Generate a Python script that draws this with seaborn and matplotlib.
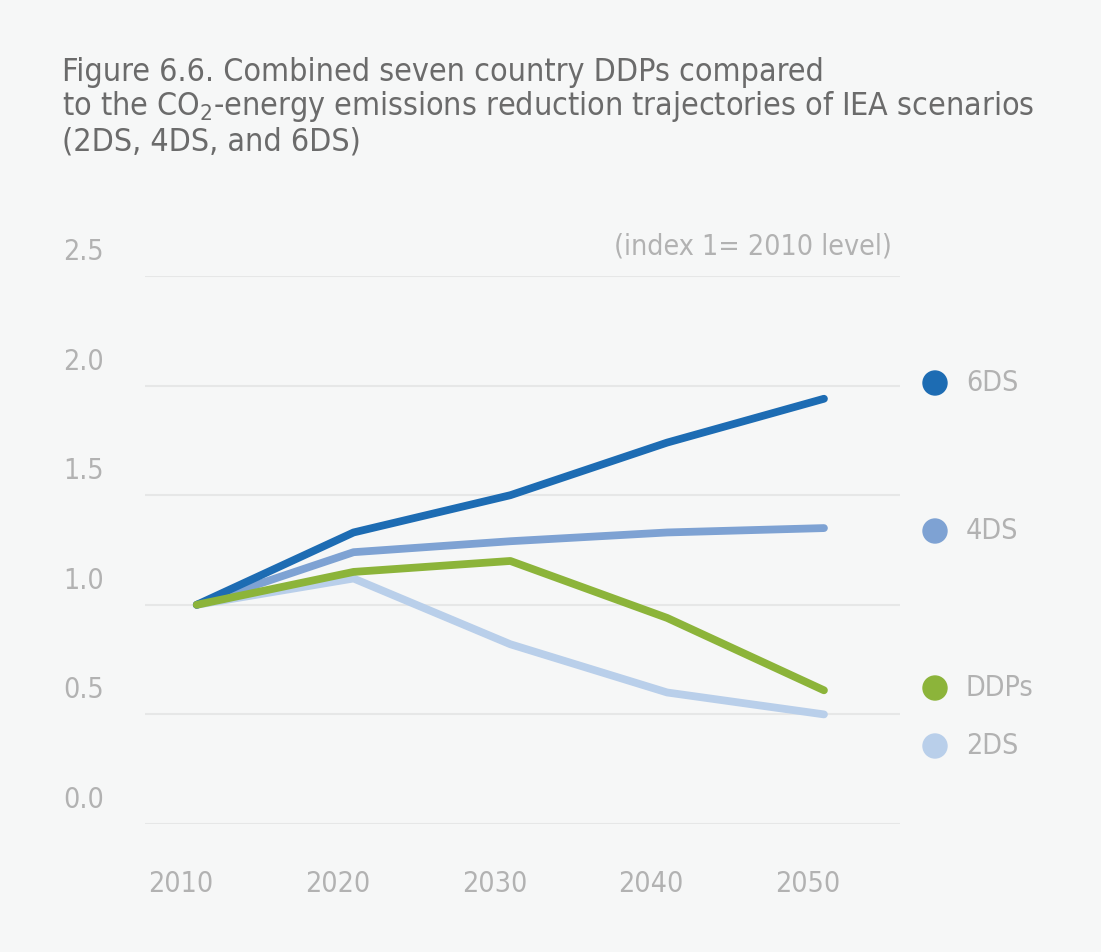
import matplotlib
matplotlib.use("Agg")
import matplotlib.pyplot as plt
import matplotlib.transforms as mtransforms
import seaborn as sns
import pandas as pd

# ---- data ----
years = [2010, 2020, 2030, 2040, 2050]
s6ds = [1.00, 1.33, 1.50, 1.74, 1.94]
s4ds = [1.00, 1.24, 1.29, 1.33, 1.35]
ddps = [1.00, 1.15, 1.20, 0.94, 0.61]
s2ds = [1.00, 1.12, 0.82, 0.60, 0.50]
series_names = ["2DS", "4DS", "6DS", "DDPs"]
yticks = [0.0, 0.5, 1.0, 1.5, 2.0, 2.5]
title_lines = ["Figure 6.6. Combined seven country DDPs compared",
               "to the CO$_2$-energy emissions reduction trajectories of IEA scenarios",
               "(2DS, 4DS, and 6DS)"]
unit_note = "(index 1= 2010 level)"
legend_order = ["6DS", "4DS", "DDPs", "2DS"]

df = pd.DataFrame({
    "year": years * 4,
    "value": s2ds + s4ds + s6ds + ddps,
    "scenario": sum([[n] * len(years) for n in series_names], []),
})

# ---- style ----
BG = "#f6f7f7"
colors = {"6DS": "#1d6cb3", "4DS": "#7ea2d3", "DDPs": "#8cb43a", "2DS": "#b9cfea"}

sns.set_theme(style="white")
plt.rcParams["font.family"] = ["DejaVu Sans"]
plt.rcParams["font.stretch"] = "condensed"
plt.rcParams["mathtext.fontset"] = "custom"
plt.rcParams["mathtext.rm"] = "DejaVu Sans:stretch=condensed"

fig = plt.figure(figsize=(11.01, 9.52), dpi=100, facecolor=BG)
ax = fig.add_axes([145 / 1101, 1 - 824 / 952, (900 - 145) / 1101, (824 - 276) / 952])
ax.set_facecolor(BG)

sns.lineplot(data=df, x="year", y="value", hue="scenario", hue_order=series_names,
             palette=colors, linewidth=5.6, ax=ax, legend=False,
             solid_capstyle="round", solid_joinstyle="round")

ax.set_xlim(2006.7, 2054.85)
ax.set_ylim(0, 2.5)
ax.set_xticks(years)
ax.set_yticks(yticks)
ax.set_yticklabels([f"{v:.1f}" for v in yticks])
ax.grid(axis="y", color="#e6e7e7", linewidth=1.5)
ax.grid(axis="x", visible=False)
for sp in ax.spines.values():
    sp.set_visible(False)
ax.set_xlabel("")
ax.set_ylabel("")

TICK_FS = 20.5
ax.tick_params(axis="y", length=0, pad=59, labelsize=TICK_FS, labelcolor="#b2b2b2")
ax.tick_params(axis="x", length=0, pad=33, labelsize=TICK_FS, labelcolor="#b2b2b2")
for lab in ax.get_yticklabels():
    lab.set_horizontalalignment("left")
    lab.set_transform(lab.get_transform() + mtransforms.ScaledTranslation(0, 0.27, fig.dpi_scale_trans))
for lab in ax.get_xticklabels():
    lab.set_transform(lab.get_transform() + mtransforms.ScaledTranslation(-0.16, 0, fig.dpi_scale_trans))

# unit note
fig.text(892 / 1101, 1 - 247 / 952, unit_note, ha="right", va="center",
         fontsize=TICK_FS, color="#b2b2b2")

# title
for i, line in enumerate(title_lines):
    fig.text(62 / 1101, 1 - (72 + 35 * i) / 952, line, ha="left", va="center",
             fontsize=23, color="#6b6b6b")

# legend (dots + labels at right)
legend_px_y = {"6DS": 383, "4DS": 531, "DDPs": 688, "2DS": 746}
for name in legend_order:
    yf = 1 - legend_px_y[name] / 952
    fig.patches.append(matplotlib.patches.Ellipse((935 / 1101, yf), 24 / 1101, 24 / 952,
                                                  transform=fig.transFigure, color=colors[name]))
    fig.text(966 / 1101, yf, name, ha="left", va="center", fontsize=TICK_FS, color="#b2b2b2")

fig.savefig("out.png", dpi=100, facecolor=BG)
